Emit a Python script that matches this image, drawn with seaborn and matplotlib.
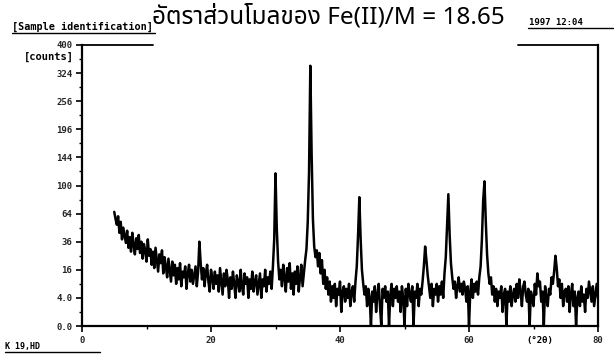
import numpy as np
import pandas as pd
import matplotlib
matplotlib.use("Agg")
import matplotlib.pyplot as plt
import seaborn as sns
from matplotlib.lines import Line2D

# ---- data ----
scan_start = 5.0      # deg 2theta
scan_step = 0.2       # deg 2theta
counts = [
    66, 58, 52, 61, 44, 55, 38, 49, 42, 35,
    46, 31, 40, 28, 44, 33, 26, 39, 30, 42,
    27, 36, 23, 34, 29, 21, 38, 25, 30, 19,
    28, 17, 31, 22, 15, 26, 20, 29, 14, 24,
    18, 12, 23, 16, 10, 21, 13, 19, 9, 17,
    11, 20, 8, 15, 12, 18, 7, 14, 19, 10,
    16, 9, 13, 18, 8, 15, 36, 20, 11, 17,
    8, 14, 19, 10, 6, 16, 12, 7, 15, 9,
    13, 6, 17, 10, 5, 14, 8, 16, 11, 4,
    12, 7, 15, 9, 4, 13, 10, 6, 16, 8,
    5, 14, 9, 12, 4, 11, 7, 15, 6, 10,
    13, 5, 9, 14, 4, 11, 8, 16, 6, 12,
    9, 15, 7, 18, 38, 118, 48, 21, 11, 16,
    8, 19, 12, 6, 17, 10, 20, 7, 14, 5,
    15, 9, 18, 6, 12, 19, 8, 14, 22, 30,
    55, 120, 343, 150, 58, 32, 24, 29, 18, 27,
    14, 22, 9, 16, 7, 12, 5, 10, 3, 8,
    4, 9, 2, 7, 5, 10, 1, 6, 8, 3,
    7, 4, 9, 2, 6, 8, 3, 10, 18, 42,
    84, 38, 16, 9, 5, 8, 2, 7, 4, 0,
    6, 3, 8, 1, 5, 9, 2, 0, 7, 4,
    8, 3, 6, 0, 5, 9, 2, 7, 4, 8,
    3, 6, 1, 8, 4, 0, 7, 2, 9, 5,
    3, 8, 0, 6, 4, 9, 2, 7, 5, 10,
    18, 32, 22, 13, 8, 4, 9, 2, 7, 5,
    9, 3, 8, 5, 10, 4, 14, 24, 52, 88,
    42, 20, 12, 7, 10, 4, 8, 12, 6, 9,
    5, 10, 7, 3, 8, 0, 6, 11, 4, 9,
    6, 10, 5, 12, 18, 38, 80, 106, 56, 26,
    14, 9, 12, 5, 8, 3, 7, 2, 6, 4,
    8, 1, 5, 7, 0, 6, 3, 8, 2, 5,
    7, 3, 9, 4, 11, 6, 2, 8, 10, 5,
    3, 7, 0, 6, 4, 2, 9, 5, 14, 8,
    10, 3, 6, 0, 8, 4, 2, 7, 5, 12,
    9, 15, 25, 17, 8, 11, 4, 9, 2, 6,
    7, 3, 8, 1, 5, 9, 2, 6, 0, 4,
    6, 2, 8, 3, 5, 1, 7, 4, 10, 6,
    3, 8, 2, 5, 9, 4,
]
two_theta = np.round(scan_start + scan_step * np.arange(len(counts)), 2)

x_ticks = [0, 20, 40, 60, 80]
x_tick_labels = ["0", "20", "40", "60", "80"]
x_minor = [10, 30, 50, 70]
y_ticks = [0, 4, 16, 36, 64, 100, 144, 196, 256, 324, 400]
y_tick_labels = ["0.0", "4.0", "16", "36", "64", "100", "144", "196", "256", "324", "400"]
y_minor = [1, 9, 25, 49, 81, 121, 169, 225, 289, 361]

title_text = "อัตราส่วนโมลของ Fe(II)/M = 18.65"
sample_text = "[Sample identification]"
date_text = "1997 12:04"
ylabel_text = "[counts]"
xunit_text = "(°2θ)"
footer_text = "K 19,HD"

df = pd.DataFrame({"two_theta": two_theta, "counts": counts})

# ---- style ----
sns.set_style("ticks")
plt.rcParams["font.family"] = ["DejaVu Sans"]
thai_fonts = ["Noto Sans Thai", "Noto Sans Thai UI", "Loma", "Garuda", "Norasi",
              "Tlwg Typo", "Kinnari", "Waree", "Sarabun", "DejaVu Sans"]
mono = ["DejaVu Sans Mono"]

fig = plt.figure(figsize=(6.14, 3.56), dpi=100)
ax = fig.add_axes([82 / 614, 1 - 326 / 356, (598 - 82) / 614, (326 - 45) / 356])

sns.lineplot(data=df, x="two_theta", y="counts", ax=ax, color="black",
             linewidth=1.8, estimator=None, sort=False, legend=False)

ax.set_yscale("function", functions=(lambda v: np.sqrt(np.clip(v, 0, None)),
                                     lambda s: np.square(s)))
ax.set_xlim(0, 80)
ax.set_ylim(0, 400)

ax.set_xticks(x_ticks)
ax.set_xticklabels(x_tick_labels, fontsize=6.5, fontweight="bold", family=mono)
ax.set_xticks(x_minor, minor=True)
ax.set_yticks(y_ticks)
ax.set_yticklabels(y_tick_labels, fontsize=6.5, fontweight="bold", family=mono)
ax.set_yticks(y_minor, minor=True)
ax.tick_params(axis="both", which="major", direction="out", length=4, width=1.2,
               color="black", pad=3)
ax.tick_params(axis="both", which="minor", direction="out", length=2.5, width=1.0,
               color="black")
ax.set_xlabel("")
ax.set_ylabel("")

for side in ["left", "bottom", "right"]:
    ax.spines[side].set_visible(True)
    ax.spines[side].set_linewidth(1.6)
    ax.spines[side].set_color("black")
ax.spines["top"].set_visible(False)
# partial top frame (interrupted by the title)
ax.add_line(Line2D([0, 0.137], [1.0, 1.0], transform=ax.transAxes, color="black",
                   linewidth=1.3, clip_on=False))
ax.add_line(Line2D([0.845, 1.0], [1.0, 1.0], transform=ax.transAxes, color="black",
                   linewidth=1.3, clip_on=False))

# texts
fig.text(328 / 614, 1 - 17 / 356, title_text, ha="center", va="center",
         fontsize=17.5, family=thai_fonts, color="black")
fig.text(12 / 614, 1 - 27 / 356, sample_text, ha="left", va="center",
         fontsize=7.3, fontweight="bold", family=mono, color="black")
fig.add_artist(Line2D([12 / 614, 155 / 614], [1 - 32.5 / 356, 1 - 32.5 / 356],
                      color="black", linewidth=1.0))
fig.text(529 / 614, 1 - 22.5 / 356, date_text, ha="left", va="center",
         fontsize=6.5, fontweight="bold", family=mono, color="black")
fig.add_artist(Line2D([528 / 614, 613 / 614], [1 - 27.5 / 356, 1 - 27.5 / 356],
                      color="black", linewidth=1.0))
fig.text(74 / 614, 1 - 57 / 356, ylabel_text, ha="right", va="center",
         fontsize=7.5, fontweight="bold", family=mono, color="black")
ax.text(71, -0.035, xunit_text, transform=ax.get_xaxis_transform(), ha="center",
        va="top", fontsize=6.5, fontweight="bold", family=mono, color="black")
fig.text(5 / 614, 1 - 346 / 356, footer_text, ha="left", va="center",
         fontsize=6, fontweight="bold", family=mono, color="black")
fig.add_artist(Line2D([5 / 614, 100 / 614], [1 - 352 / 356, 1 - 352 / 356],
                      color="black", linewidth=1.0))

fig.savefig("out.png", dpi=100, facecolor="white")
